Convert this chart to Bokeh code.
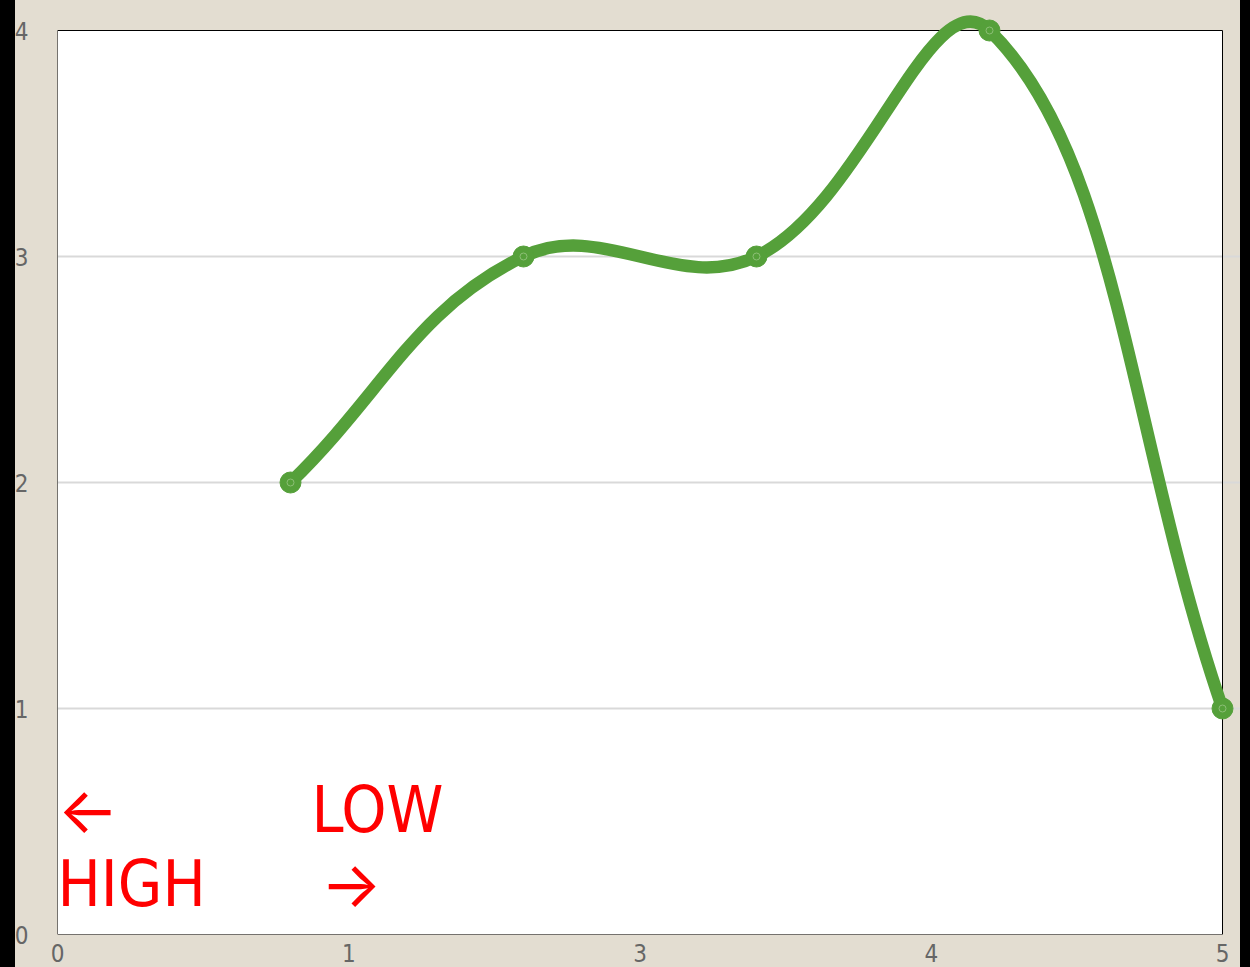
import numpy as np
from bokeh.plotting import figure
from bokeh.models import FixedTicker, Range1d, Label, BoxAnnotation
from bokeh.embed import file_html
from bokeh.resources import INLINE

# ---- data ----
x_vals = [1, 2, 3, 4, 5]
y_vals = [2, 3, 3, 4, 1]
x_ticks = [0, 1.25, 2.5, 3.75, 5]
x_tick_labels = ["0", "1", "3", "4", "5"]
y_ticks = [0, 1, 2, 3, 4]
grid_ticks = [1, 2, 3]
word_texts = ["LOW", "HIGH"]
arrow_texts = ["\u2190", "\u2192"]

# ---- style ----
BEIGE = "#E3DDD1"
GREEN = "#55A03A"
LABEL = "#666666"
FONT = "'Liberation Sans Narrow', 'DejaVu Sans Condensed', 'DejaVu Sans', sans-serif"
ARROW_FONT = "Inter, 'DejaVu Sans', sans-serif"
TENSION = 0.4
SX, SY = 233.0, 226.0  # pixels per data unit (for spline shape)

# Chart.js-like cardinal spline control points
X = np.array(x_vals, float)
Y = np.array(y_vals, float)
n = len(X)
cpp, cpn = [], []
for i in range(n):
    a = i - 1 if i > 0 else i
    b = i + 1 if i < n - 1 else i
    d01 = np.hypot((X[i] - X[a]) * SX, (Y[i] - Y[a]) * SY)
    d12 = np.hypot((X[b] - X[i]) * SX, (Y[b] - Y[i]) * SY)
    tot = d01 + d12
    fa = TENSION * d01 / tot
    fb = TENSION * d12 / tot
    cpp.append((X[i] - fa * (X[b] - X[a]), Y[i] - fa * (Y[b] - Y[a])))
    cpn.append((X[i] + fb * (X[b] - X[a]), Y[i] + fb * (Y[b] - Y[a])))

x0 = X[:-1]; y0 = Y[:-1]; x1 = X[1:]; y1 = Y[1:]
cx0 = [c[0] for c in cpn[:-1]]; cy0 = [c[1] for c in cpn[:-1]]
cx1 = [c[0] for c in cpp[1:]]; cy1 = [c[1] for c in cpp[1:]]

p = figure(width=1231, height=967, output_backend="svg", toolbar_location=None,
           x_range=Range1d(x_ticks[0], 5 + 18 / SX), y_range=Range1d(y_ticks[0], 4 + 30 / SY),
           min_border_left=48, min_border_right=0, min_border_top=0, min_border_bottom=33)
p.background_fill_color = BEIGE
p.border_fill_color = BEIGE
p.outline_line_color = None

# plot area (white) and its black outline
p.quad(left=[x_ticks[0]], right=[x_ticks[-1]], bottom=[y_ticks[0]], top=[y_ticks[-1]],
       fill_color="white", line_color=None, level="image")
p.add_layout(BoxAnnotation(left=x_ticks[0], right=x_ticks[-1], bottom=y_ticks[0], top=y_ticks[-1],
                           fill_color=None, fill_alpha=0, line_color="black", line_width=1,
                           line_alpha=1, level="underlay"))

p.xgrid.visible = False
p.ygrid.ticker = FixedTicker(ticks=grid_ticks)
p.ygrid.grid_line_color = "#d9d9d9"
p.ygrid.grid_line_width = 2
p.ygrid.bounds = (x_ticks[0], x_ticks[-1])

p.xaxis.ticker = FixedTicker(ticks=x_ticks)
p.xaxis.major_label_overrides = {t: l for t, l in zip(x_ticks, x_tick_labels)}
p.yaxis.ticker = FixedTicker(ticks=y_ticks)
for ax in (p.xaxis, p.yaxis):
    ax.axis_line_color = None
    ax.major_tick_line_color = None
    ax.minor_tick_line_color = None
    ax.major_tick_out = 0
    ax.major_tick_in = 0
    ax.major_label_text_color = LABEL
    ax.major_label_text_font = FONT
    ax.major_label_text_font_size = "24px"
p.yaxis.major_label_standoff = 29
p.xaxis.major_label_standoff = 9

p.bezier(x0=x0, y0=y0, x1=x1, y1=y1, cx0=cx0, cy0=cy0, cx1=cx1, cy1=cy1,
         line_color=GREEN, line_width=12.5, line_cap="round")
p.scatter(x_vals, y_vals, size=21, fill_color=GREEN, line_color=GREEN)
p.scatter(x_vals, y_vals, size=7, fill_color=None, line_color="#8CBF76", line_width=1)

word_pos = [(1.09, 0.553), (0.0, 0.225)]
for t, (lx, ly) in zip(word_texts, word_pos):
    p.add_layout(Label(x=lx, y=ly, text=t, text_color="red", text_font=FONT,
                       text_font_size="64px", text_baseline="alphabetic"))
arrow_pos = [(0.0, 0.555), (1.13, 0.224)]
for t, (lx, ly) in zip(arrow_texts, arrow_pos):
    p.add_layout(Label(x=lx, y=ly, text=t, text_color="red", text_font=ARROW_FONT,
                       text_font_size="64px", text_baseline="alphabetic"))

template = """
{% block postamble %}
<style>
html, body { margin: 0 !important; padding: 0; background: #E3DDD1; overflow: hidden; }
body { padding-left: 9px !important; }
body::before { content: ""; position: fixed; left: 0; top: 0; width: 15px; height: 100%;
               background: #000; z-index: 100; pointer-events: none; }
body::after { content: ""; position: fixed; left: 1240px; top: 0; width: 20px; height: 100%;
              background: #000; z-index: 100; pointer-events: none; }
</style>
{% endblock %}
"""
open("out.html", "w").write(file_html(p, INLINE, template=template))
